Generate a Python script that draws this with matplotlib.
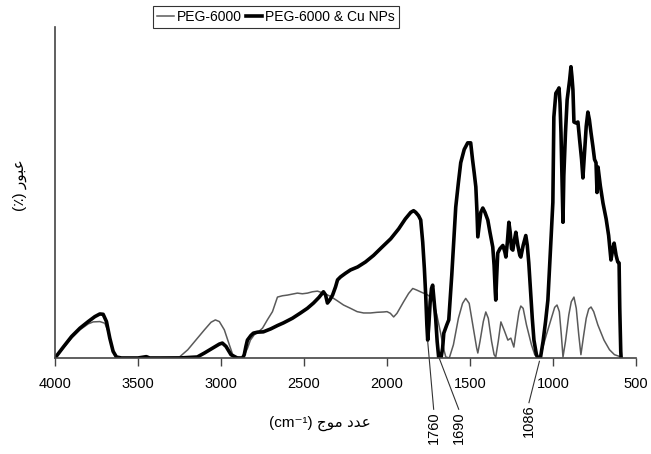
import matplotlib
matplotlib.use("Agg")
import matplotlib.pyplot as plt

plt.rcParams['font.family'] = ['Liberation Sans', 'DejaVu Sans']

# PEG-6000 (thin line): wavenumber (cm-1), transmittance
peg_x = [4000, 3950, 3900, 3850, 3800, 3770, 3730, 3700, 3680, 3660, 3640, 3625,
         3400, 3250, 3200, 3150, 3100, 3060, 3034, 3010, 2980, 2950, 2926, 2880,
         2865, 2840, 2823, 2800, 2775, 2750, 2721, 2690, 2660, 2630, 2600, 2570,
         2540, 2510, 2479, 2450, 2419, 2383, 2340, 2300, 2262, 2220, 2180, 2141,
         2100, 2060, 2021, 2000, 1980, 1960, 1940, 1900, 1870, 1845, 1820, 1790,
         1760, 1737, 1720, 1700, 1677, 1660, 1646, 1625, 1600, 1570, 1545, 1526,
         1505, 1480, 1460, 1453, 1440, 1420, 1405, 1390, 1370, 1355, 1345, 1330,
         1314, 1295, 1272, 1254, 1236, 1220, 1205, 1194, 1180, 1160, 1130, 1110,
         1091, 1075, 1061, 1040, 1010, 990, 976, 962, 950, 940, 925, 905, 890,
         874, 860, 845, 832, 815, 800, 785, 771, 755, 730, 710, 693, 660, 630, 590]
peg_y = [0, 3, 6, 8.5, 10.3, 10.9, 11, 10.5, 8, 4, 1, 0,
         0, 0.3, 2.5, 5.5, 8.5, 10.8, 11.5, 11, 8.5, 4, 0.5, 0,
         0.3, 3, 5.4, 7, 7.9, 9, 11.5, 14, 18.4, 18.8, 19, 19.3,
         19.6, 19.4, 19.6, 20, 20.2, 19.6, 18.6, 17.3, 16, 15, 14, 13.6,
         13.6, 13.8, 13.9, 14, 13.5, 12.4, 13.5, 17, 19.5, 21, 20.5, 19.8,
         19.2, 18.4, 17, 13, 7.5, 3, 0.3, 0, 4, 12, 16.5, 18,
         16.5, 9, 3, 1.5, 5, 11, 13.9, 12, 5, 1, 0.3, 5,
         10.9, 8.5, 5.4, 6, 3.3, 9, 14, 15.7, 15, 10, 4, 1,
         0, 0.3, 3.3, 7, 12, 15.3, 16, 14, 7, 0.3, 5, 13, 17,
         18.4, 15, 7, 1, 7, 12, 14.8, 15.4, 14, 10, 7.5, 5.4, 2.5, 1, 0.3]

# PEG-6000 & Cu NPs (thick line)
cu_x = [4000, 3950, 3900, 3850, 3800, 3760, 3730, 3710, 3690, 3670, 3650, 3630,
        3600, 3500, 3450, 3430, 3250, 3143, 3100, 3050, 3010, 2992, 2970, 2940,
        2910, 2902, 2870, 2860, 2850, 2841, 2820, 2805, 2780, 2745, 2700, 2660,
        2624, 2570, 2521, 2480, 2443, 2410, 2383, 2370, 2359, 2345, 2328, 2310,
        2298, 2280, 2250, 2220, 2177, 2130, 2081, 2030, 1978, 1930, 1890, 1857,
        1840, 1827, 1810, 1797, 1785, 1775, 1767, 1760, 1755, 1748, 1740, 1732,
        1725, 1718, 1707, 1698, 1689, 1675, 1665, 1658, 1640, 1628, 1610, 1595,
        1586, 1570, 1556, 1535, 1514, 1496, 1485, 1475, 1465, 1458, 1453, 1445,
        1435, 1423, 1410, 1393, 1380, 1363, 1355, 1348, 1345, 1340, 1333, 1320,
        1302, 1290, 1284, 1275, 1266, 1258, 1250, 1242, 1235, 1224, 1212, 1200,
        1194, 1180, 1164, 1155, 1146, 1135, 1125, 1115, 1100, 1091, 1075, 1060,
        1045, 1031, 1020, 1010, 1001, 995, 983, 970, 964, 958, 952, 946, 940,
        935, 925, 915, 910, 900, 892, 886, 880, 874, 862, 850, 840, 828, 820,
        810, 800, 790, 781, 771, 760, 750, 741, 735, 729, 715, 699, 680, 665,
        651, 640, 632, 620, 610, 602, 598, 592, 590]
cu_y = [0, 3.3, 6.5, 9, 11, 12.5, 13.3, 13.2, 11, 6, 2, 0.3,
        0, 0, 0.4, 0, 0, 0.3, 1.5, 3, 4.2, 4.5, 3.5, 1,
        0.2, 0, 0, 1, 3.5, 5.4, 6.8, 7.5, 7.8, 7.9, 8.8, 9.8,
        10.6, 12, 13.6, 15, 16.6, 18.3, 20, 19, 16.6, 17.5, 19, 21.5,
        23.6, 24.5, 25.6, 26.6, 27.5, 29, 31, 33.5, 36, 39, 42, 44,
        44.5, 44, 43, 41.7, 35, 27, 19, 10, 5.4, 10, 17, 21,
        22, 18, 12, 5, 0.3, 0, 3, 7.5, 10, 11.5, 25, 38,
        45.6, 53, 59, 63, 65, 65, 60, 56, 51.7, 44, 36.6, 40,
        44, 45.3, 44, 41.7, 38, 33.5, 28, 20, 17.5, 24, 31.7, 33,
        34, 32, 30.5, 35, 41, 38, 33, 32.6, 35, 38, 34, 31,
        30.5, 34, 37, 34, 28.7, 20, 12, 5.4, 1, 0, 0.3, 5,
        11, 17.5, 28, 38, 47, 72.8, 80, 81, 81.6, 77, 68, 55, 41,
        55, 68, 78, 80, 84, 88, 85, 81, 71.3, 71, 71.3, 66, 60, 54.4,
        62, 70, 74.3, 72, 68, 64, 60, 59, 50, 57.7, 52, 46.8, 42, 37,
        29.6, 33, 34.7, 31, 29, 28.7, 15, 2, 0.3]

xticks = [4000, 3500, 3000, 2500, 2000, 1500, 1000, 500]
marked = ['1760', '1690', '1086']
mark_from = [(1755, 5), (1686, 0), (1082, -1)]
mark_to = [(1719, -15.5), (1568, -15.5), (1145, -13.5)]

fig = plt.figure(figsize=(6.51, 4.54), dpi=100)
ax = fig.add_axes([0.0845, 0.2115, 0.8925, 0.729])

ax.plot(peg_x, peg_y, color='#5a5a5a', lw=1.1, label='PEG-6000')
ax.plot(cu_x, cu_y, color='black', lw=2.6, label='PEG-6000 & Cu NPs')

ax.set_xlim(4000, 500)
ax.set_ylim(0, 100)
ax.set_xticks(xticks)
ax.set_yticks([])
ax.tick_params(axis='x', direction='out', length=6, width=1, pad=8,
               labelsize=10.5, color='#444444')
for side in ['top', 'right']:
    ax.spines[side].set_visible(False)
for side in ['left', 'bottom']:
    ax.spines[side].set_color('#444444')
    ax.spines[side].set_linewidth(1.2)

for lab, p0, p1 in zip(marked, mark_from, mark_to):
    ax.plot([p0[0], p1[0]], [p0[1], p1[1]], color='#333333', lw=0.8, clip_on=False)
    ax.text(p1[0], p1[1] - 0.5, lab, rotation=90, ha='center', va='top',
            fontsize=10.5, clip_on=False)

# Arabic labels, given in presentation forms and visual order
ylab = '(\u066A) \uFEAD\uFEEE\uFE92\uFECB'
xlab = '(cm\u207B\u00B9) \uFE9D\uFEEE\uFEE3 \uFEA9\uFEAA\uFECB'
fig.text(20 / 651, 1 - 185 / 454, ylab, rotation=90, ha='center', va='center',
         fontsize=11)
fig.text(320 / 651, 1 - 423 / 454, xlab, ha='center', va='center', fontsize=11)

leg = fig.legend(loc='upper center', bbox_to_anchor=(276 / 651, 1 - 6 / 454),
                 ncol=2, frameon=True, fancybox=False, handlelength=1.2,
                 handletextpad=0.2, columnspacing=0.3, borderpad=0.3,
                 borderaxespad=0, prop={'size': 10})
leg.get_frame().set_edgecolor('black')
leg.get_frame().set_linewidth(0.8)

fig.savefig('out.png', dpi=100)
